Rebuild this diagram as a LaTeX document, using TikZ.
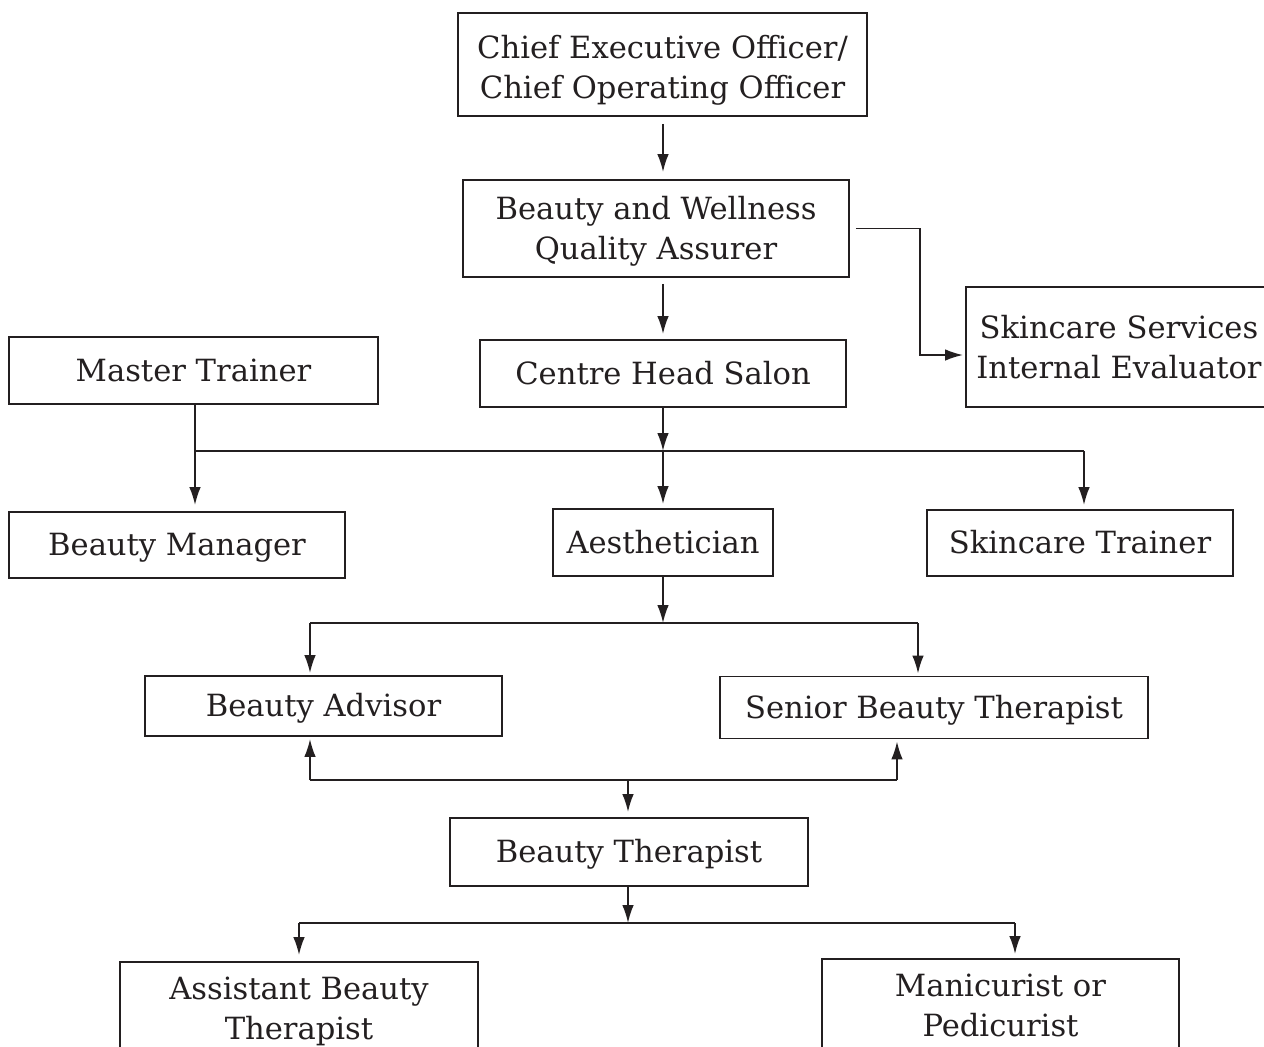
\documentclass[tikz,border=0pt]{standalone}
\usepackage{fontspec}
\setmainfont{DejaVu Serif}
\usetikzlibrary{arrows.meta,calc}
\definecolor{ink}{HTML}{231F20}
\begin{document}
\begin{tikzpicture}[x=0.5pt,y=-0.5pt,
  box/.style={draw=ink, text=ink, line width=0.95pt, inner sep=0pt, align=center,
              font=\fontsize{15.3}{20}\selectfont, text height=10.5pt, text depth=0pt},
  twoline/.style={text height=31pt, text depth=0pt},
  arr/.style={draw=ink, line width=0.9pt, -{Latex[length=9pt,width=5.8pt]}},
  ln/.style={draw=ink, line width=0.9pt}]
\useasboundingbox (0,0) rectangle (1264,1046);
\clip (0,0) rectangle (1264,1046);
% nodes
\node[box, twoline, text height=34pt, minimum width=204.5pt, minimum height=51.5pt] (ceo) at (662.5,64.5) {Chief Executive Officer/\\Chief Operating Officer};
\node[box, twoline, minimum width=193pt, minimum height=48.5pt] (bwqa) at (656,228.5) {Beauty and Wellness\\Quality Assurer};
\node[box, twoline, minimum width=153pt, minimum height=60pt] (ssie) at (1119,347) {Skincare Services\\Internal Evaluator};
\node[box, minimum width=184.5pt, minimum height=33.5pt] (mt) at (193.5,370.5) {Master Trainer};
\node[box, minimum width=183pt, minimum height=33.5pt] (chs) at (663,373.5) {Centre Head Salon};
\node[box, minimum width=168pt, minimum height=33pt] (bm) at (177,545) {Beauty Manager};
\node[box, minimum width=110pt, minimum height=33.5pt] (aes) at (663,542.5) {Aesthetician};
\node[box, minimum width=153pt, minimum height=33pt] (st) at (1080,543) {Skincare Trainer};
\node[box, minimum width=178.5pt, minimum height=30pt] (ba) at (323.5,706) {Beauty Advisor};
\node[box, minimum width=214pt, minimum height=31pt] (sbt) at (934,707.5) {Senior Beauty Therapist};
\node[box, minimum width=179pt, minimum height=34pt] (bt) at (629,852) {Beauty Therapist};
\node[box, twoline, minimum width=179pt, minimum height=46pt] (abt) at (299,1008) {Assistant Beauty\\Therapist};
\node[box, twoline, minimum width=178.5pt, minimum height=46pt] (mp) at (1000.5,1005) {Manicurist or\\Pedicurist};
% junction coordinates
\coordinate (k1) at (920,355);
\coordinate (j1) at (663,451);
\coordinate (jl) at (195,451);
\coordinate (jr) at (1084,451);
\coordinate (j2) at (663,623);
\coordinate (l2a) at (310,623);
\coordinate (l2b) at (918,623);
\coordinate (l3a) at (310,780);
\coordinate (l3b) at (897,780);
\coordinate (j3) at (628,780);
\coordinate (j4) at (628,923);
\coordinate (l4a) at (299,923);
\coordinate (l4b) at (1015,923);
% connectors
\draw[arr, shorten <=3.5pt, shorten >=3.5pt] (ceo.south -| chs) -- (bwqa.north -| chs);
\draw[arr, shorten <=3pt, shorten >=2.5pt] (bwqa.south -| chs) -- (chs.north);
\draw[arr, shorten <=3pt, shorten >=1pt] (bwqa.east) -| (k1) -- (k1 -| ssie.west);
\draw[arr] (chs.south) -- (j1);
\draw[ln] (mt.south -| jl) -- (jl);
\draw[ln] (jl) -- (jr);
\draw[arr, shorten >=3pt] (jl) -- (bm.north -| jl);
\draw[arr, shorten >=2pt] (j1) -- (aes.north);
\draw[arr, shorten >=2pt] (jr) -- (st.north -| jr);
\draw[arr] (aes.south) -- (j2);
\draw[ln] (l2a) -- (l2b);
\draw[arr, shorten >=1pt] (l2a) -- (ba.north -| l2a);
\draw[arr, shorten >=1pt] (l2b) -- (sbt.north -| l2b);
\draw[ln] (l3a) -- (l3b);
\draw[arr, shorten >=1pt] (l3a) -- (ba.south -| l3a);
\draw[arr, shorten >=1pt] (l3b) -- (sbt.south -| l3b);
\draw[arr, shorten >=2.5pt] (j3) -- (bt.north -| j3);
\draw[arr] (bt.south -| j4) -- (j4);
\draw[ln] (l4a) -- (l4b);
\draw[arr, shorten >=3pt] (l4a) -- (abt.north);
\draw[arr, shorten >=2pt] (l4b) -- (mp.north -| l4b);
\end{tikzpicture}
\end{document}
